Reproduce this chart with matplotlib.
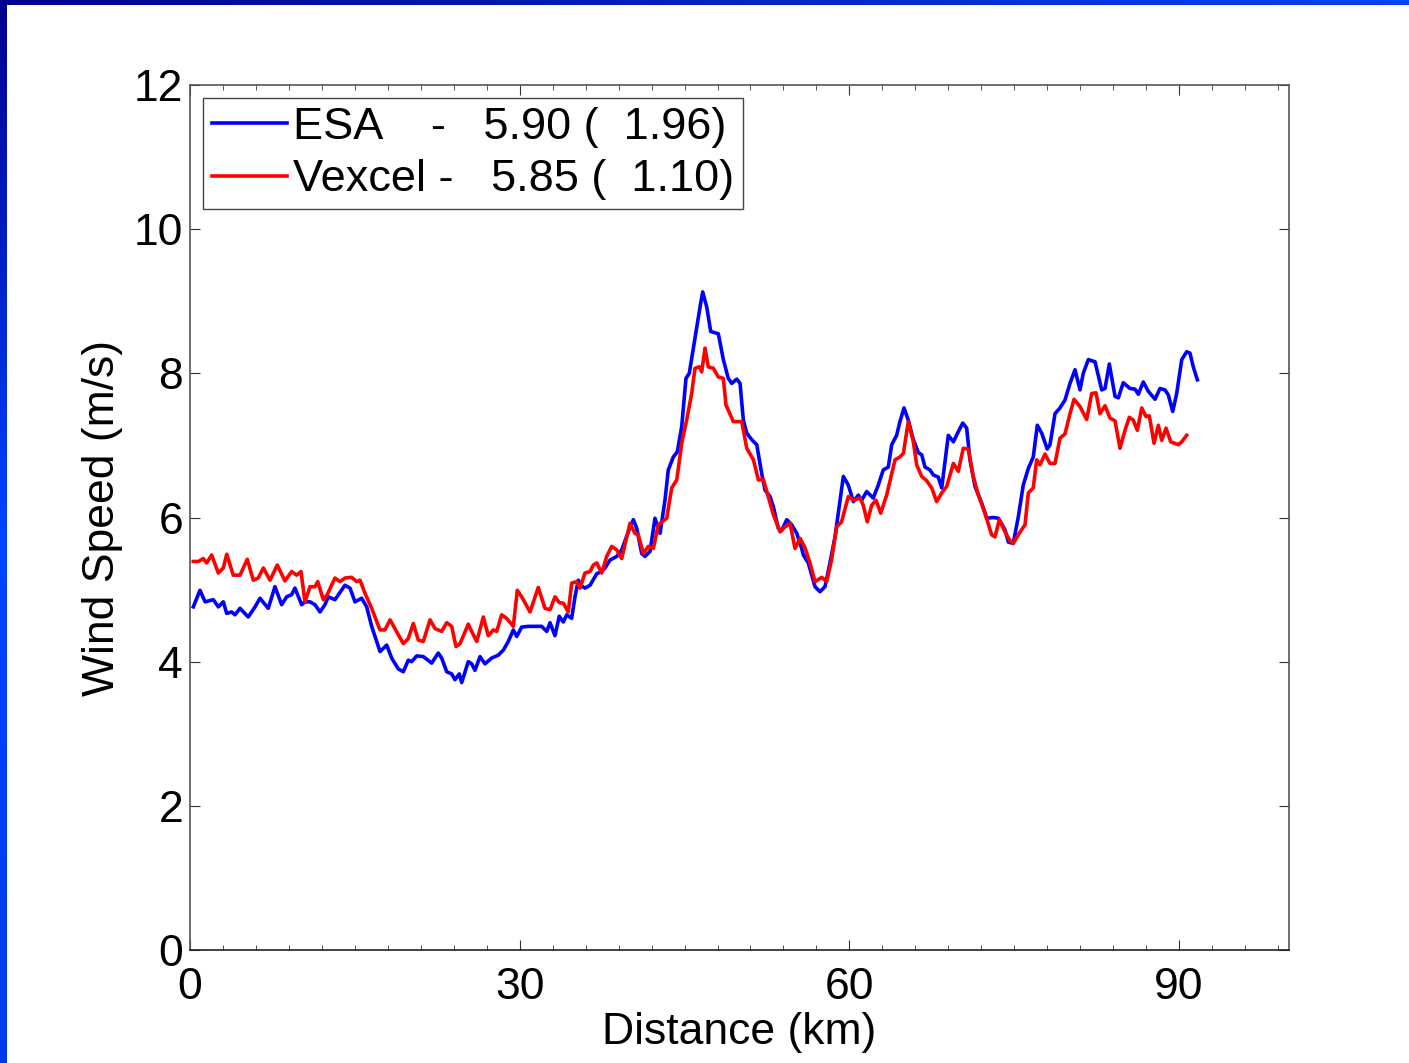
import matplotlib
matplotlib.use('Agg')
import numpy as np
import matplotlib.pyplot as plt
from matplotlib.ticker import MultipleLocator

plt.rcParams['font.family'] = ['Liberation Sans', 'DejaVu Sans']

# ESA wind speed along track (km, m/s)
esa_km = [0.30, 0.91, 1.37, 2.12, 2.58, 3.03, 3.34, 3.79, 4.09, 4.55, 5.30, 5.92, 6.37, 7.12,
          7.73, 8.34, 8.80, 9.25, 9.55, 10.16, 10.46, 10.92, 11.37, 11.83, 12.28, 12.58, 13.19,
          14.10, 14.56, 15.01, 15.62, 16.08, 16.53, 17.29, 17.90, 18.35, 18.95, 19.41, 19.86,
          20.17, 20.63, 21.23, 21.99, 22.59, 22.90, 23.36, 23.81, 24.11, 24.50, 24.72, 25.32,
          25.63, 25.93, 26.39, 26.84, 27.45, 28.05, 28.51, 28.96, 29.42, 29.73, 30.18, 30.78,
          31.55, 32.00, 32.46, 32.76, 33.21, 33.60, 33.97, 34.28, 34.73, 35.03, 35.33, 35.64,
          35.94, 36.40, 37.01, 37.46, 37.76, 38.22, 38.83, 39.28, 39.88, 40.34, 40.65, 41.10,
          41.40, 41.86, 42.31, 42.77, 43.22, 43.52, 43.98, 44.34, 44.74, 45.13, 45.43, 45.95,
          46.41, 46.65, 47.02, 47.38, 48.07, 48.53, 48.98, 49.29, 49.75, 50.05, 50.35, 50.66,
          51.11, 51.57, 52.02, 52.32, 52.78, 53.08, 53.53, 53.84, 54.30, 54.75, 55.21, 55.66,
          55.81, 56.26, 56.87, 57.32, 57.78, 58.23, 58.69, 59.45, 59.90, 60.36, 60.81, 61.12,
          61.57, 62.17, 62.63, 63.08, 63.54, 63.85, 64.30, 64.60, 64.97, 65.36, 65.82, 66.27,
          66.58, 66.88, 67.33, 67.64, 68.09, 68.40, 68.70, 69.00, 69.46, 69.91, 70.31, 70.67,
          70.97, 71.43, 72.04, 72.49, 73.10, 73.55, 74.16, 74.46, 74.91, 75.37, 75.82, 76.28,
          76.73, 77.10, 77.50, 78.00, 78.25, 78.71, 79.16, 79.62, 80.07, 80.53, 80.98, 81.28,
          81.74, 82.35, 82.96, 83.26, 83.65, 84.17, 84.47, 84.92, 85.53, 85.99, 86.29, 86.74,
          87.20, 87.81, 88.26, 88.72, 89.02, 89.42, 89.78, 90.24, 90.69, 90.99, 91.29, 91.66]
esa_ws = [4.76, 4.99, 4.83, 4.86, 4.76, 4.83, 4.67, 4.69, 4.65, 4.74, 4.62, 4.76, 4.88, 4.74,
          5.04, 4.79, 4.90, 4.93, 5.02, 4.79, 4.83, 4.83, 4.79, 4.69, 4.79, 4.90, 4.86,
          5.06, 5.02, 4.83, 4.88, 4.76, 4.49, 4.14, 4.23, 4.05, 3.90, 3.86, 4.02,
          4.00, 4.08, 4.07, 3.98, 4.12, 4.05, 3.86, 3.83, 3.75, 3.83, 3.71, 4.00,
          3.97, 3.88, 4.07, 3.97, 4.05, 4.09, 4.16, 4.28, 4.44, 4.35, 4.48, 4.49,
          4.49, 4.49, 4.42, 4.54, 4.36, 4.63, 4.55, 4.65, 4.60, 4.90, 5.13, 5.05,
          5.02, 5.06, 5.22, 5.25, 5.30, 5.41, 5.46, 5.55, 5.80, 5.97, 5.85, 5.50,
          5.46, 5.53, 5.99, 5.78, 6.24, 6.66, 6.84, 6.91, 7.26, 7.93, 8.00, 8.49,
          8.92, 9.13, 8.92, 8.58, 8.55, 8.19, 7.93, 7.86, 7.92, 7.86, 7.35, 7.17,
          7.08, 7.01, 6.61, 6.38, 6.29, 6.15, 5.85, 5.82, 5.97, 5.90, 5.78, 5.57,
          5.48, 5.37, 5.04, 4.97, 5.04, 5.37, 5.73, 6.57, 6.45, 6.22, 6.31, 6.24,
          6.36, 6.27, 6.45, 6.66, 6.70, 7.01, 7.14, 7.33, 7.52, 7.35, 7.08, 6.90,
          6.87, 6.70, 6.66, 6.59, 6.56, 6.41, 6.77, 7.14, 7.05, 7.19, 7.31, 7.24,
          6.80, 6.43, 6.20, 5.99, 6.00, 5.99, 5.83, 5.66, 5.64, 6.01, 6.45, 6.68,
          6.84, 7.28, 7.17, 6.95, 7.01, 7.44, 7.52, 7.63, 7.86, 8.05, 7.77, 8.00,
          8.19, 8.16, 7.77, 7.79, 8.13, 7.68, 7.66, 7.87, 7.79, 7.78, 7.71, 7.88,
          7.75, 7.64, 7.79, 7.77, 7.70, 7.47, 7.72, 8.19, 8.30, 8.28, 8.09, 7.91]

# Vexcel wind speed along track (km, m/s)
vex_km = [0.30, 0.76, 1.21, 1.52, 1.97, 2.58, 3.03, 3.34, 3.94, 4.55, 5.21, 5.76, 6.21, 6.67,
          7.28, 7.94, 8.64, 9.25, 9.71, 10.10, 10.46, 10.92, 11.37, 11.62, 12.13, 12.49, 13.19,
          13.65, 14.10, 14.71, 15.17, 15.47, 15.92, 16.53, 17.29, 17.74, 18.20, 19.11, 19.41,
          19.86, 20.32, 20.77, 21.23, 21.84, 22.29, 22.90, 23.36, 23.81, 24.20, 24.57, 25.32,
          25.63, 26.09, 26.69, 27.14, 27.60, 27.91, 28.36, 28.82, 29.42, 29.78, 30.18, 30.94,
          31.69, 32.30, 32.76, 33.21, 33.60, 33.97, 34.42, 34.73, 35.19, 35.49, 35.94, 36.40,
          36.70, 37.01, 37.46, 37.92, 38.37, 38.83, 39.28, 40.04, 40.49, 40.79, 41.25, 41.70,
          42.16, 42.61, 43.38, 43.83, 44.29, 44.74, 45.19, 45.65, 45.95, 46.34, 46.56, 46.86,
          47.16, 47.62, 48.07, 48.53, 48.77, 49.44, 50.20, 50.66, 51.27, 51.72, 52.17, 52.62,
          53.08, 53.69, 54.14, 54.60, 55.05, 55.51, 55.96, 56.41, 56.87, 57.48, 57.93, 58.38,
          58.84, 59.29, 59.90, 60.36, 60.96, 61.26, 61.63, 62.03, 62.42, 62.85, 63.39, 64.15,
          64.60, 64.91, 65.36, 65.82, 66.12, 66.58, 67.03, 67.49, 67.94, 68.40, 68.85, 69.46,
          69.91, 70.36, 70.82, 71.27, 71.73, 72.34, 72.94, 73.25, 73.64, 74.16, 74.56, 74.91,
          75.37, 75.98, 76.28, 76.73, 77.04, 77.34, 77.80, 78.25, 78.71, 79.16, 79.62, 80.07,
          80.44, 80.98, 81.59, 82.05, 82.44, 82.80, 83.26, 83.71, 84.17, 84.62, 85.08, 85.47,
          85.83, 86.20, 86.60, 86.99, 87.29, 87.72, 88.11, 88.42, 88.81, 89.24, 89.93, 90.24,
          90.69]
vex_ws = [5.39, 5.39, 5.43, 5.37, 5.48, 5.23, 5.30, 5.49, 5.20, 5.20, 5.42, 5.13, 5.16, 5.30,
          5.13, 5.34, 5.12, 5.25, 5.20, 5.25, 4.83, 5.04, 5.04, 5.11, 4.86, 4.93, 5.16,
          5.11, 5.16, 5.17, 5.11, 5.13, 4.95, 4.74, 4.44, 4.44, 4.58, 4.33, 4.25,
          4.32, 4.53, 4.30, 4.28, 4.58, 4.46, 4.42, 4.54, 4.49, 4.21, 4.25, 4.52,
          4.42, 4.28, 4.62, 4.36, 4.44, 4.42, 4.65, 4.60, 4.49, 4.99, 4.90, 4.69,
          5.03, 4.74, 4.72, 4.90, 4.82, 4.81, 4.69, 5.09, 5.11, 5.02, 5.23, 5.25,
          5.34, 5.37, 5.23, 5.46, 5.60, 5.55, 5.43, 5.92, 5.78, 5.76, 5.50, 5.60,
          5.57, 5.90, 5.99, 6.41, 6.52, 7.03, 7.35, 7.72, 8.07, 8.09, 8.02, 8.35,
          8.09, 8.07, 7.95, 7.93, 7.56, 7.33, 7.33, 6.96, 6.80, 6.52, 6.53, 6.29,
          6.04, 5.80, 5.87, 5.92, 5.57, 5.71, 5.58, 5.37, 5.11, 5.17, 5.11, 5.41,
          5.87, 5.94, 6.29, 6.24, 6.27, 6.17, 5.94, 6.17, 6.24, 6.06, 6.31, 6.80,
          6.84, 6.89, 7.33, 7.05, 6.73, 6.57, 6.51, 6.41, 6.22, 6.34, 6.43, 6.75,
          6.64, 6.96, 6.95, 6.57, 6.31, 6.06, 5.76, 5.73, 5.97, 5.80, 5.69, 5.64,
          5.76, 5.90, 6.34, 6.41, 6.80, 6.73, 6.88, 6.75, 6.75, 7.10, 7.16, 7.44,
          7.64, 7.54, 7.36, 7.72, 7.73, 7.44, 7.55, 7.38, 7.34, 6.96, 7.21, 7.39,
          7.35, 7.21, 7.52, 7.40, 7.41, 7.03, 7.28, 7.07, 7.24, 7.05, 7.01, 7.05,
          7.14]

labels = ['ESA    -   5.90 (  1.96)', 'Vexcel -   5.85 (  1.10)']

W, H = 1409, 1063
fig = plt.figure(figsize=(W/100, H/100), dpi=100, facecolor='white')

# slide frame: blue gradient bars on top and left
grad = np.linspace(0, 1, 256)
top = fig.add_axes([0, 1-5/H, 1, 5/H]); top.axis('off')
top.imshow(grad[None, :], aspect='auto', cmap=matplotlib.colors.LinearSegmentedColormap.from_list('t', ['#000090', '#0044f5']))
left = fig.add_axes([0, 0, 6.5/W, 1-5/H]); left.axis('off')
left.imshow(grad[:, None], aspect='auto', cmap=matplotlib.colors.LinearSegmentedColormap.from_list('l', ['#003ae8', '#0044ff', '#000090']), origin='lower')

ax = fig.add_axes([190/W, 1-950/H, 1099/W, 865/H])
ax.plot(esa_km, esa_ws, color='#0000ff', lw=2.6, label=labels[0])
ax.plot(vex_km, vex_ws, color='#ff0000', lw=2.6, label=labels[1])

ax.set_xlim(0, 100); ax.set_ylim(0, 12)
ax.set_xticks([0, 30, 60, 90]); ax.set_yticks([0, 2, 4, 6, 8, 10, 12])
ax.xaxis.set_minor_locator(MultipleLocator(3))
ax.tick_params(which='both', direction='in', top=True, right=True, labelsize=32, colors='#333333', labelcolor='black')
ax.tick_params(axis='x', which='major', length=7, pad=12)
ax.tick_params(axis='y', which='major', length=7, pad=5)
ax.tick_params(which='minor', length=3.5)
for s in ax.spines.values():
    s.set_color('#555555'); s.set_linewidth(1.2)
ax.spines['bottom'].set_color('#222222')

ax.set_xlabel('Distance (km)', fontsize=32, labelpad=3)
ax.set_ylabel('Wind Speed (m/s)', fontsize=32, labelpad=8)

leg = ax.legend(loc='upper left', bbox_to_anchor=(13/1099, 1-13/865), borderaxespad=0,
                fontsize=32.5, handlelength=1.65, handletextpad=0.15, labelspacing=0.25,
                borderpad=0.2, fancybox=False, framealpha=1, edgecolor='#444444')
leg.get_frame().set_linewidth(1.0)

fig.savefig('out.png', dpi=100, facecolor='white')
